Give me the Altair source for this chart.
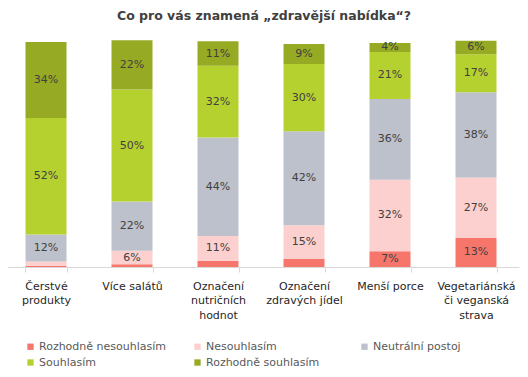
import altair as alt
import pandas as pd

categories = ["Čerstvé\nprodukty", "Více salátů", "Označení\nnutričních\nhodnot",
              "Označení\nzdravých jídel", "Menší porce", "Vegetariánská\nči veganská\nstrava"]
series = ["Rozhodně nesouhlasím", "Nesouhlasím", "Neutrální postoj", "Souhlasím", "Rozhodně souhlasím"]
colors = ["#F6766C", "#FCD0CF", "#BDC1CB", "#B5D130", "#97AA23"]
title_text = "Co pro vás znamená „zdravější nabídka“?"

rozhodne_nesouhlasim = [0.6, 1.2, 2.8, 3.6, 7, 13]
nesouhlasim = [1.9, 6, 11, 15, 32, 27]
neutralni = [12, 22, 44, 42, 36, 38]
souhlasim = [52, 50, 32, 30, 21, 17]
rozhodne_souhlasim = [34, 22, 11, 9, 4, 6]

values = [rozhodne_nesouhlasim, nesouhlasim, neutralni, souhlasim, rozhodne_souhlasim]
rows = []
for si, (s, vals) in enumerate(zip(series, values)):
    for ci, (c, v) in enumerate(zip(categories, vals)):
        rows.append({"cat": c, "series": s, "order": si, "value": v,
                     "label": f"{round(v)}%" if v >= 4 else ""})
df = pd.DataFrame(rows)

# legend fills column by column (2 rows): reorder so it reads row by row
legend_order = [0, 3, 1, 4, 2]
legend_domain = [series[i] for i in legend_order]
legend_range = [colors[i] for i in legend_order]

FONT = "DejaVu Sans"

x_enc = alt.X("cat:N", sort=categories,
              scale=alt.Scale(range=[-5, 511], paddingInner=0.52, paddingOuter=0.26),
              axis=alt.Axis(title=None, labelAngle=0, labelExpr="split(datum.label, '\\n')",
                            labelFont=FONT, labelFontSize=11, labelColor="#262626",
                            labelLineHeight=14.5, labelPadding=8, labelBaseline="top",
                            domainColor="#D9D9D9", tickColor="#D9D9D9", tickBand="extent",
                            tickSize=5, labelLimit=200))
y_enc = alt.Y("value:Q", stack="zero", scale=alt.Scale(domain=[0, 100], nice=False),
              axis=None)

bars = alt.Chart(df).mark_bar(size=41).encode(
    x=x_enc, y=y_enc,
    color=alt.Color("series:N", scale=alt.Scale(domain=legend_domain, range=legend_range),
                    legend=alt.Legend(title=None, orient="none", legendX=17, legendY=298,
                                      columns=3, gridAlign="all", columnPadding=25,
                                      rowPadding=4, symbolType="square", symbolSize=40,
                                      symbolStrokeWidth=0, labelFont=FONT, labelFontSize=11,
                                      labelColor="#595959", symbolOffset=0, labelOffset=3)),
    order=alt.Order("order:Q"),
)

text = alt.Chart(df).mark_text(font=FONT, fontSize=11, color="#404040").encode(
    x=alt.X("cat:N", sort=categories),
    y=alt.Y("mid:Q", scale=alt.Scale(domain=[0, 100], nice=False)),
    text="label:N",
).transform_stack(
    stack="value", groupby=["cat"], sort=[alt.SortField("order")], as_=["y0", "y1"]
).transform_calculate(mid="(datum.y0 + datum.y1) / 2")

title = alt.Chart(pd.DataFrame({"t": [title_text]})).mark_text(
    font=FONT, fontSize=12.5, fontWeight="bold", color="#404040",
    baseline="alphabetic", align="center"
).encode(x=alt.value(256), y=alt.value(-23), text="t:N")

chart = alt.layer(bars, text, title).properties(
    width=512, height=224,
    padding={"left": 0, "top": 35, "right": 0, "bottom": 110},
    autosize=alt.AutoSizeParams(type="none"),
).configure_view(stroke=None)

chart.save("out.html", embed_options={"renderer": "svg", "actions": False})
